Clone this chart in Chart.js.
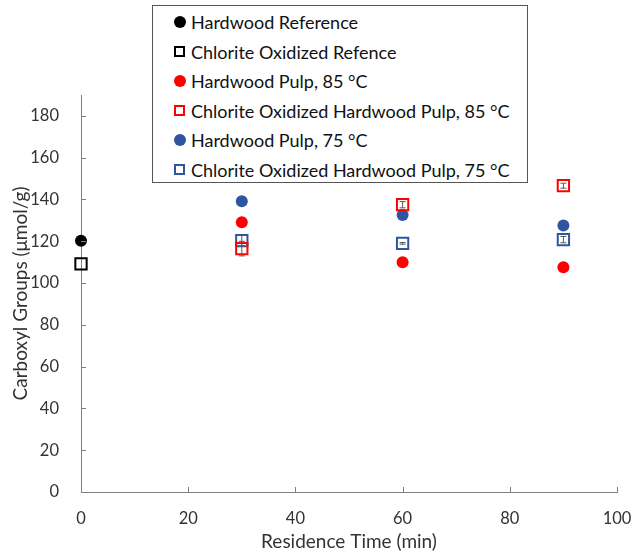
<!DOCTYPE html>
<html>
<head>
<meta charset="utf-8">
<script src="https://cdn.jsdelivr.net/npm/chart.js@4"></script>
<style>
  body { margin: 0; background: #fff; }
  #wrap { position: relative; width: 633px; height: 557px; }
  #legend {
    position: absolute; left: 152px; top: 5px; width: 374px; height: 176px;
    border: 1.5px solid #555; background: #fff;
    font-family: Lato, sans-serif; font-size: 18px; color: #111;
  }
  .row { position: absolute; left: 0; height: 20px; line-height: 20px; white-space: nowrap; }
  .mark { position: absolute; left: 21px; top: 4px; width: 12px; height: 12px; box-sizing: border-box; }
  .row span { position: absolute; left: 38px; top: 0; }
</style>
</head>
<body>
<div id="wrap">
  <canvas id="chart" width="633" height="557"></canvas>
  <div id="legend"></div>
</div>
<script>
// residence times (min)
const refTime = [0];
const times = [30, 60, 90];

// carboxyl groups (umol/g)
const hardwoodRef = [120.3];
const chloriteRef = [109.2];
const hw85 = [129.1, 110.0, 107.6];
const ch85 = [116.5, 137.5, 146.6];
const hw75 = [139.1, 132.6, 127.5];
const ch75 = [120.3, 119.0, 120.8];

// error bars (+/-)
const ch85Err = [3.5, 1.5, 1.2];
const ch75Err = [2.5, 0.4, 1.5];

const yTicks = [0, 20, 40, 60, 80, 100, 120, 140, 160, 180];
const xTicks = [0, 20, 40, 60, 80, 100];

const RED = '#ff0000';
const BLUE = '#2f55a2';

function pts(xs, ys) {
  return ys.map((y, i) => ({ x: xs[i], y: y }));
}

function circleSet(label, xs, ys, color, order) {
  return {
    label: label, data: pts(xs, ys), pointStyle: 'circle', pointRadius: 6,
    backgroundColor: color, borderColor: color, borderWidth: 0, order: order, clip: false
  };
}

function squareSet(label, xs, ys, color, err, order) {
  return {
    label: label, data: pts(xs, ys), pointStyle: 'rect', pointRadius: 8,
    backgroundColor: 'rgba(255,255,255,0)', borderColor: color, borderWidth: 2,
    errors: err, order: order, clip: false
  };
}

const datasets = [
  circleSet('Hardwood Reference', refTime, hardwoodRef, '#000', 1),
  squareSet('Chlorite Oxidized Refence', refTime, chloriteRef, '#000', null, 2),
  circleSet('Hardwood Pulp, 85 °C', times, hw85, RED, 5),
  squareSet('Chlorite Oxidized Hardwood Pulp, 85 °C', times, ch85, RED, ch85Err, 3),
  circleSet('Hardwood Pulp, 75 °C', times, hw75, BLUE, 6),
  squareSet('Chlorite Oxidized Hardwood Pulp, 75 °C', times, ch75, BLUE, ch75Err, 4)
];

// error bars plus the small inward tick marks
const extras = {
  id: 'extras',
  afterDatasetsDraw(chart) {
    const ctx = chart.ctx;
    const xs = chart.scales.x, ys = chart.scales.y;
    ctx.save();
    ctx.strokeStyle = '#595959';
    ctx.lineWidth = 1;
    chart.data.datasets.forEach(ds => {
      if (!ds.errors) return;
      ds.data.forEach((p, i) => {
        const e = ds.errors[i];
        const px = xs.getPixelForValue(p.x);
        const top = ys.getPixelForValue(p.y + e);
        const bot = ys.getPixelForValue(p.y - e);
        ctx.beginPath();
        ctx.moveTo(px, top); ctx.lineTo(px, bot);
        ctx.moveTo(px - 3, top); ctx.lineTo(px + 3, top);
        ctx.moveTo(px - 3, bot); ctx.lineTo(px + 3, bot);
        ctx.stroke();
      });
    });
    ctx.strokeStyle = '#7f7f7f';
    ctx.beginPath();
    yTicks.forEach(v => {
      const py = Math.round(ys.getPixelForValue(v)) + 0.5;
      ctx.moveTo(xs.left, py); ctx.lineTo(xs.left + 5, py);
    });
    xTicks.forEach(v => {
      const px = Math.round(xs.getPixelForValue(v)) + 0.5;
      ctx.moveTo(px, ys.bottom); ctx.lineTo(px, ys.bottom - 5);
    });
    ctx.stroke();
    ctx.restore();
  }
};

const tickFont = { family: 'Lato', size: 16.5 };
const titleFont = { family: 'Lato', size: 19 };

new Chart(document.getElementById('chart'), {
  type: 'scatter',
  data: { datasets: datasets },
  options: {
    responsive: false,
    animation: false,
    layout: { padding: { top: 95, right: 16, left: 0, bottom: 0 } },
    plugins: { legend: { display: false }, tooltip: { enabled: false } },
    scales: {
      x: {
        type: 'linear', min: 0, max: 100,
        afterBuildTicks: s => { s.ticks = xTicks.map(v => ({ value: v })); },
        afterFit: s => { s.height = 65; s.paddingLeft = 0; s.paddingRight = 0; },
        grid: { display: false },
        border: { display: true, color: '#7f7f7f', width: 1 },
        ticks: { font: tickFont, color: '#333', padding: 9, maxRotation: 0 },
        title: { display: true, text: 'Residence Time (min)', font: titleFont, color: '#333', padding: { top: 11 } }
      },
      y: {
        type: 'linear', min: 0, max: 190,
        afterBuildTicks: s => { s.ticks = yTicks.map(v => ({ value: v })); },
        afterFit: s => { s.width = 81; },
        grid: { display: false },
        border: { display: true, color: '#7f7f7f', width: 1 },
        ticks: { font: tickFont, color: '#333', padding: 14 },
        title: { display: true, text: 'Carboxyl Groups (μmol/g)', font: titleFont, color: '#333', padding: { top: 9, bottom: 2 } }
      }
    }
  },
  plugins: [extras]
});

// html legend built from the datasets
const legend = document.getElementById('legend');
datasets.forEach((ds, i) => {
  const row = document.createElement('div');
  row.className = 'row';
  row.style.top = (6 + i * 29.5) + 'px';
  const m = document.createElement('div');
  m.className = 'mark';
  if (ds.pointStyle === 'circle') {
    m.style.borderRadius = '50%';
    m.style.background = ds.backgroundColor;
  } else {
    m.style.border = '2px solid ' + ds.borderColor;
    m.style.width = '11px'; m.style.height = '11px';
  }
  const t = document.createElement('span');
  t.textContent = ds.label;
  row.appendChild(m);
  row.appendChild(t);
  legend.appendChild(row);
});
</script>
</body>
</html>
